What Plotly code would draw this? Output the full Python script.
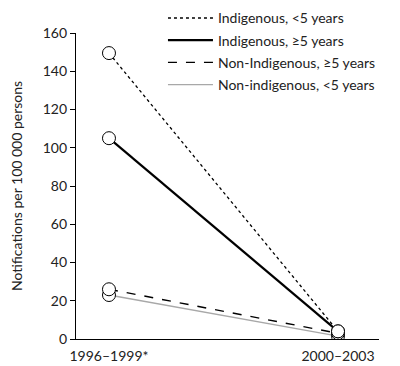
import plotly.graph_objects as go

periods = ["1996–1999*", "2000–2003"]
series_names = ["Indigenous, <5 years", "Indigenous, ≥5 years",
                "Non-Indigenous, ≥5 years", "Non-indigenous, <5 years"]
ind_lt5 = [149.5, 4]
ind_ge5 = [105, 4]
nonind_ge5 = [26, 3]
nonind_lt5 = [23, 1.5]
y_ticks = [0, 20, 40, 60, 80, 100, 120, 140, 160]

values = [ind_lt5, ind_ge5, nonind_ge5, nonind_lt5]
styles = [
    dict(color="black", width=1.3, dash="dot"),
    dict(color="black", width=2.2, dash="solid"),
    dict(color="black", width=1.4, dash="dash"),
    dict(color="#a8a8a8", width=1.4, dash="solid"),
]
FONT = "Lato"
x_pos = list(range(len(periods)))

fig = go.Figure()
for i, (name, vals, st) in enumerate(zip(series_names, values, styles)):
    fig.add_trace(go.Scatter(x=x_pos, y=vals, mode="lines", name=name,
                             line=st, legendgroup=f"g{i}", showlegend=True))
for i, vals in enumerate(values[::-1]):
    fig.add_trace(go.Scatter(x=x_pos, y=vals, mode="markers", showlegend=False,
                             marker=dict(size=13, color="white",
                                         line=dict(color="black", width=1)),
                             hoverinfo="skip"))

fig.update_layout(
    width=400, height=366,
    margin=dict(l=68, r=29, t=25, b=35, autoexpand=False),
    paper_bgcolor="white", plot_bgcolor="white",
    font=dict(family=FONT, size=14, color="#222"),
    legend=dict(x=0.287, y=1.10, xanchor="left", yanchor="top",
                bgcolor="rgba(0,0,0,0)", traceorder="grouped",
                tracegroupgap=1, itemwidth=45,
                font=dict(family=FONT, size=14, color="#222")),
    xaxis=dict(range=[-0.144, 1.179], tickvals=x_pos, ticktext=periods,
               showgrid=False, zeroline=False, showline=True,
               linecolor="black", linewidth=1.3, ticks="outside", ticklen=4,
               tickcolor="rgba(0,0,0,0)",
               tickfont=dict(size=14)),
    yaxis=dict(range=[0, 160], tickvals=y_ticks, showgrid=False,
               zeroline=False, showline=True, linecolor="black",
               linewidth=1.3, ticks="outside", ticklen=5, tickwidth=1.3,
               tickcolor="black",
               title=dict(text="Notifications per 100 000 persons",
                          standoff=18, font=dict(size=14)),
               tickfont=dict(size=14)),
)
fig.write_html("out.html")
